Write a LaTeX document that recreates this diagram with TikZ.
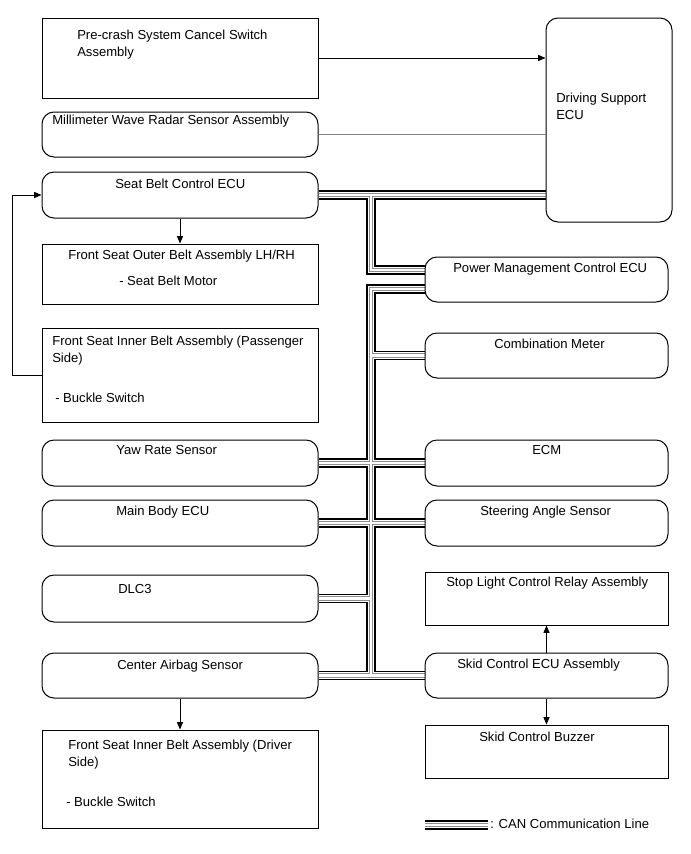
\documentclass[tikz,border=0pt]{standalone}
\usepackage{fontspec}
\setmainfont{Liberation Sans}
\usetikzlibrary{fit,arrows.meta}
\pgfdeclarelayer{bg}
\pgfsetlayers{bg,main}
\begin{document}
\begin{tikzpicture}[x=0.75pt,y=-0.75pt,
  every node/.style={font=\fontsize{9.8}{12.6}\selectfont},
  sbox/.style={draw,line width=0.75pt,inner sep=0pt,rectangle},
  rbox/.style={sbox,rounded corners=9pt},
  txt/.style={inner sep=0pt,anchor=mid west,align=left},
  txtn/.style={inner sep=0pt,anchor=north west,align=left},
  arr/.style={line width=0.7pt,-{Triangle[length=5.5pt,width=4.5pt]}},
  plain/.style={line width=0.7pt},
  canA/.style={line width=7.4pt,black},
  canB/.style={line width=4.8pt,white},
  canC/.style={line width=3.3pt,black!45},
  canD/.style={line width=1.6pt,white}]
\useasboundingbox (0,0) rectangle (691,854);

% left column
\node[sbox,fit={(42,18)(318,98)}] (pc) {};
\node[rbox,fit={(546,18)(672,222)}] (ds) {};
\node[rbox,fit={(42,112)(318,157)}] (mm) {};
\node[rbox,fit={(42,172)(318,218)}] (sb) {};
\node[sbox,fit={(42,244)(318,304)}] (fo) {};
\node[sbox,fit={(42,328)(318,422)}] (fip) {};
\node[rbox,fit={(42,440)(318,486)}] (yaw) {};
\node[rbox,fit={(42,500)(318,546)}] (mb) {};
\node[rbox,fit={(42,575)(318,622)}] (dlc) {};
\node[rbox,fit={(42,653)(318,698)}] (cab) {};
\node[sbox,fit={(42,730)(318,828)}] (fid) {};
% right column
\node[rbox,fit={(425,257)(668,302)}] (pm) {};
\node[rbox,fit={(425,333)(668,378)}] (cm) {};
\node[rbox,fit={(425,440)(668,486)}] (ecm) {};
\node[rbox,fit={(425,500)(668,546)}] (sas) {};
\node[sbox,fit={(425,572)(668,625)}] (sl) {};
\node[rbox,fit={(425,653)(668,698)}] (skid) {};
\node[sbox,fit={(425,725)(668,778)}] (bz) {};

% texts
\node[txtn] (tpc) at (77,29.5) {Pre-crash System Cancel Switch\\Assembly};
\node[txtn] (tds) at (556,93) {Driving Support\\ECU};
\node[txt] (tmm) at (52,121) {Millimeter Wave Radar Sensor Assembly};
\node[txt] (tsb) at (115,185) {Seat Belt Control ECU};
\node[txt] (tfo) at (68,256) {Front Seat Outer Belt Assembly LH/RH};
\node[txt] (tfo2) at (119,282) {- Seat Belt Motor};
\node[txtn] (tfip) at (52,336) {Front Seat Inner Belt Assembly (Passenger\\Side)};
\node[txt] (tfip2) at (55,399) {- Buckle Switch};
\node[txt] (tyaw) at (116,451) {Yaw Rate Sensor};
\node[txt] (tmb) at (116,512) {Main Body ECU};
\node[txt] (tdlc) at (118,590) {DLC3};
\node[txt] (tcab) at (117,666) {Center Airbag Sensor};
\node[txtn] (tfid) at (68,740) {Front Seat Inner Belt Assembly (Driver\\Side)};
\node[txt] (tfid2) at (66,803) {- Buckle Switch};
\node[txt] (tpm) at (453,269) {Power Management Control ECU};
\node[txt] (tcm) at (494,345) {Combination Meter};
\node[txt] (tecm) at (532,451) {ECM};
\node[txt] (tsas) at (480,512) {Steering Angle Sensor};
\node[txt] (tsl) at (446,583) {Stop Light Control Relay Assembly};
\node[txt] (tskid) at (457,665) {Skid Control ECU Assembly};
\node[txt] (tbz) at (479,738) {Skid Control Buzzer};
\node[txt] (tlg) at (490,825) {: CAN Communication Line};

% plain connectors
\draw[arr] (pc.east) -- (ds.west |- pc.east);
\draw[plain,black!50] (mm.east) -- (ds.west |- mm.east);
\draw[arr] (sb.south) -- (fo.north);
\coordinate (fb) at (12.7,0);
\draw[arr] (fip.west) -- (fip.west -| fb) -- (sb.west -| fb) -- (sb.west);
\draw[arr] (cab.south) -- (fid.north);
\draw[arr] (skid.north) -- (sl.south);
\draw[arr] (skid.south) -- (bz.north);

% CAN bus
\coordinate (tx) at (371,0);
\coordinate (j1) at (sb.east -| tx);
\coordinate (j2) at (371,270);
\coordinate (j3) at (371,289);
\coordinate (pmA) at (pm.west |- j2);
\coordinate (pmB) at (pm.west |- j3);
\coordinate (j4) at (cab.east -| tx);
\coordinate (lg1) at (425,825);
\coordinate (lg2) at (488,825);
\def\canall{(sb.east) -- (ds.west |- sb.east)
 (j1) -- (j2) -- (pmA)
 (pmB) -- (j3) -- (j4)
 (cm.west) -- (cm.west -| tx)
 (yaw.east) -- (ecm.west)
 (mb.east) -- (sas.west)
 (dlc.east) -- (dlc.east -| tx)
 (cab.east) -- (skid.west)
 (lg1) -- (lg2)}
\begin{pgfonlayer}{bg}
\draw[canA] \canall;
\draw[canB] \canall;
\draw[canC] \canall;
\draw[canD] \canall;
\end{pgfonlayer}
\end{tikzpicture}
\end{document}
